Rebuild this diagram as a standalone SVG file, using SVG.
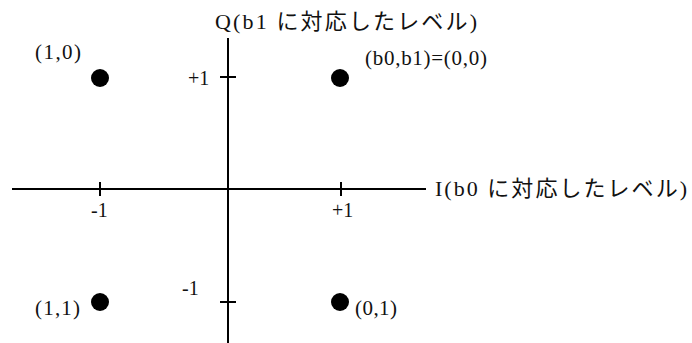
<svg xmlns="http://www.w3.org/2000/svg" width="692" height="343" viewBox="0 0 692 343">
<style>
.ax{stroke:#000;stroke-width:2;fill:none}
.t{font-family:"Liberation Serif","Noto Sans CJK JP",serif;fill:#111}
.lbl{font-size:20px}
.pl{font-size:21px}
.big{font-size:22px}
.dot{fill:#000}
</style>
<rect width="692" height="343" fill="#fff"/>
<g id="axes">
<line class="ax" x1="12" y1="189" x2="426" y2="189"/>
<line class="ax" x1="228" y1="38" x2="228" y2="343"/>
<line class="ax" x1="100" y1="182" x2="100" y2="196"/>
<line class="ax" x1="341" y1="182" x2="341" y2="196"/>
<line class="ax" x1="220" y1="77" x2="236" y2="77"/>
<line class="ax" x1="220" y1="302" x2="236" y2="302"/>
</g>
<g id="axis-labels">
<text class="t big" x="215" y="29" textLength="262" lengthAdjust="spacing">Q(b1 に対応したレベル)</text>
<text class="t big" x="435" y="196" textLength="252" lengthAdjust="spacing">I(b0 に対応したレベル)</text>
<text class="t lbl" x="188" y="85">+1</text>
<text class="t lbl" x="182" y="295">-1</text>
<text class="t lbl" x="91" y="217">-1</text>
<text class="t lbl" x="332" y="217">+1</text>
</g>
<g id="p00">
<circle class="dot" cx="340" cy="78" r="9"/>
<text class="t pl" x="365" y="65" textLength="122" lengthAdjust="spacing">(b0,b1)=(0,0)</text>
</g>
<g id="p10">
<circle class="dot" cx="100" cy="78" r="9"/>
<text class="t pl" x="35" y="59" textLength="46" lengthAdjust="spacing">(1,0)</text>
</g>
<g id="p11">
<circle class="dot" cx="100" cy="302" r="9"/>
<text class="t pl" x="35" y="315" textLength="45" lengthAdjust="spacing">(1,1)</text>
</g>
<g id="p01">
<circle class="dot" cx="340" cy="302" r="9"/>
<text class="t pl" x="355" y="315" textLength="42" lengthAdjust="spacing">(0,1)</text>
</g>
</svg>
